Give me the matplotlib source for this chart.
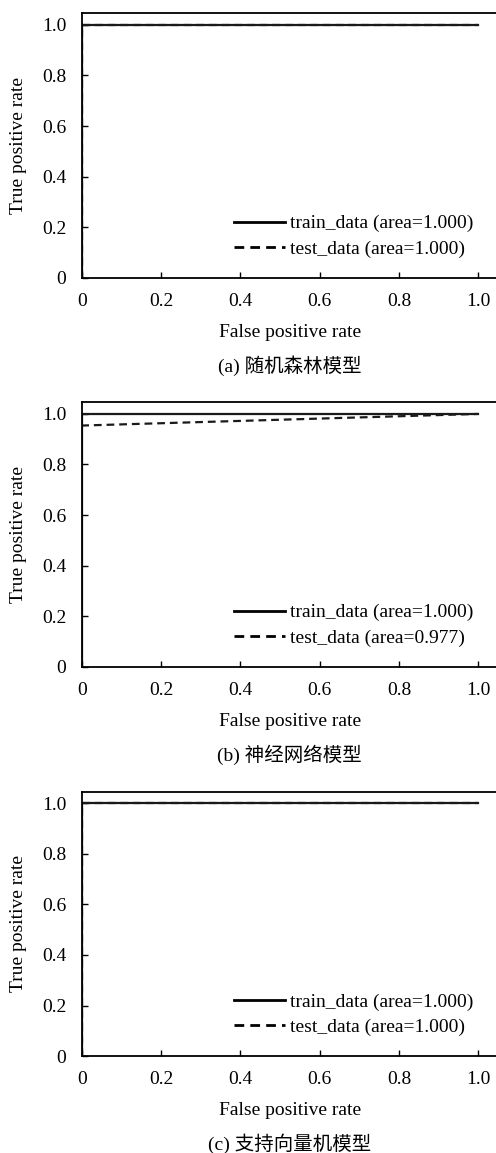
import matplotlib
matplotlib.use("Agg")
import matplotlib.pyplot as plt
from matplotlib.ticker import FuncFormatter

plt.rcParams['font.family'] = ['Liberation Serif', 'Noto Sans CJK SC']

captions = ["(a) 随机森林模型", "(b) 神经网络模型", "(c) 支持向量机模型"]
train_fpr = [[0, 0, 1], [0, 0, 1], [0, 0, 1]]
train_tpr = [[0, 1, 1], [0, 1, 1], [0, 1, 1]]
test_fpr = [[0, 0, 1], [0, 0, 1], [0, 0, 1]]
test_tpr = [[0, 1, 1], [0, 0.954, 1], [0, 1, 1]]
train_auc = [1.000, 1.000, 1.000]
test_auc = [1.000, 0.977, 1.000]
ticks = [0, 0.2, 0.4, 0.6, 0.8, 1.0]

W, H = 496, 1153
fig = plt.figure(figsize=(W / 100, H / 100), dpi=100)

tops = [13.3, 402.3, 791.7]
ax_h = 264.4
left = 81.7
ax_w = 416.3
FS = 14

def fmt(v, pos):
    return "0" if abs(v) < 1e-9 else f"{v:.1f}"

for i in range(3):
    bottom_px = tops[i] + ax_h
    ax = fig.add_axes([left / W, (H - bottom_px) / H, ax_w / W, ax_h / H])
    ax.plot(train_fpr[i], train_tpr[i], color='#1a1a1a', lw=1.6, ls='-',
            label=f"train_data (area={train_auc[i]:.3f})", clip_on=True)
    ax.plot(test_fpr[i], test_tpr[i], color='#1a1a1a', lw=1.6, ls=(0, (3.5, 2.2)),
            label=f"test_data (area={test_auc[i]:.3f})", clip_on=True)
    ax.set_xlim(0, 1.05)
    ax.set_ylim(0, 1.046)
    ax.set_xticks(ticks)
    ax.set_yticks(ticks)
    ax.xaxis.set_major_formatter(FuncFormatter(fmt))
    ax.yaxis.set_major_formatter(FuncFormatter(fmt))
    ax.tick_params(direction='in', length=4, width=1, labelsize=FS, pad=11,
                   top=False, right=False)
    ax.tick_params(axis='y', pad=11)
    for s in ax.spines.values():
        s.set_linewidth(1.3)
    ax.set_xlabel("False positive rate", fontsize=FS, labelpad=10)
    ax.set_ylabel("True positive rate", fontsize=FS, labelpad=11)
    leg = ax.legend(loc='lower right', bbox_to_anchor=(0.94, 0.075), frameon=False,
                    fontsize=FS, handlelength=2.6, handletextpad=0.25,
                    labelspacing=0.4, borderaxespad=0, borderpad=0)
    for lh in leg.get_lines():
        lh.set_linewidth(2)
        lh.set_color('black')
    cap_y = bottom_px + 88
    fig.text((left + 0.525 * 396.5) / W, (H - cap_y) / H, captions[i],
             ha='center', va='center', fontsize=FS,
             family=['Liberation Serif', 'Noto Sans CJK SC'])

fig.savefig("out.png", dpi=100)
